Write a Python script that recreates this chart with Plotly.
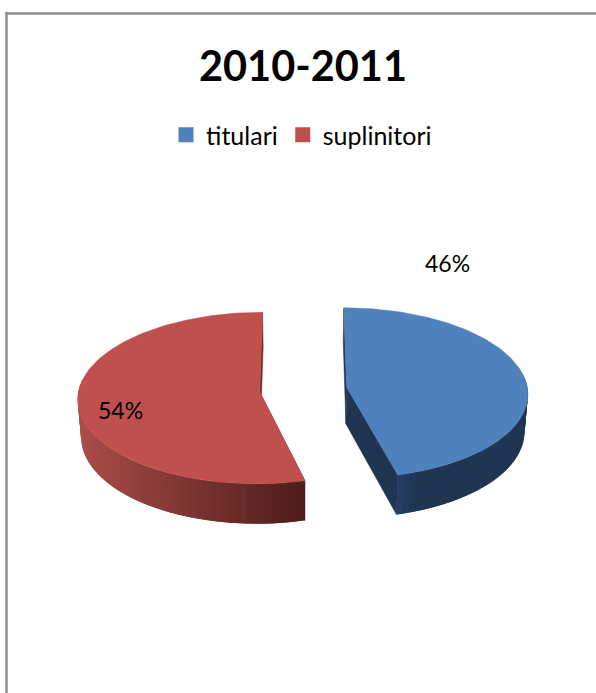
import numpy as np
import plotly.graph_objects as go

categories = ["titulari", "suplinitori"]
shares = [46, 54]
top_colors = ["#4F81BD", "#C0504D"]
title_text = "2010-2011"
label_positions = [(447, 263), (120, 410)]

W, H = 596, 693
VY = 389.5
VX_BY_SLICE = [304, 302.5]
RX, RY = 181, 85
EXPLODE = 43 / 181
PERSP = 0.07
DEPTH = 37
BOTTOM_SHRINK = 0.985


def hex_mix(c1, c2, t):
    a = [int(c1[i:i + 2], 16) for i in (1, 3, 5)]
    b = [int(c2[i:i + 2], 16) for i in (1, 3, 5)]
    return "rgb(%d,%d,%d)" % tuple(round(a[i] + (b[i] - a[i]) * t) for i in range(3))


fig = go.Figure()


def poly(xs, ys, color, edge=0.5):
    fig.add_trace(go.Scatter(
        x=list(xs) + [xs[0]], y=list(ys) + [ys[0]], mode="lines", fill="toself",
        fillcolor=color, line=dict(color=color, width=edge),
        hoverinfo="skip", showlegend=False))


total = sum(shares)
start = 0.0
slices = []
for share in shares:
    sweep = 2 * np.pi * share / total
    slices.append((start, start + sweep))
    start += sweep

cut_colors = ["#1F3552", "#6E2B28"]

for idx, ((a0, a1), top) in enumerate(zip(slices, top_colors)):
    mid = (a0 + a1) / 2
    ox, oy = EXPLODE * np.sin(mid), EXPLODE * np.cos(mid)
    vx = VX_BY_SLICE[idx]

    def project(wx, wy, down=False):
        s = 1 / (1 + PERSP * wy)
        px = vx + RX * wx * s
        py = VY - RY * wy * s
        if down:
            px = vx + (px - vx) * BOTTOM_SHRINK
            py = py + DEPTH * s
        return px, py

    def pt(theta, down=False):
        return project(ox + np.sin(theta), oy + np.cos(theta), down)

    tip_t = project(ox, oy)
    tip_b = project(ox, oy, True)

    # cut faces
    for edge in (a0, a1):
        e_t, e_b = pt(edge), pt(edge, True)
        poly([tip_t[0], e_t[0], e_b[0], tip_b[0]],
             [tip_t[1], e_t[1], e_b[1], tip_b[1]], cut_colors[idx])

    # outer wall: overlapping strips, each covering the next so no seams show
    lo, hi = max(a0, np.pi / 2 - 0.15), min(a1, 3 * np.pi / 2 + 0.15)
    thetas = np.linspace(lo, hi, 46)
    x_front, x_side = pt(lo)[0], pt(hi)[0]
    for i in range(len(thetas) - 1):
        t0 = thetas[i]
        t1 = thetas[min(i + 2, len(thetas) - 1)]
        p0, p1, q1, q0 = pt(t0), pt(t1), pt(t1, True), pt(t0, True)
        if idx == 0:
            f = (a1 - t0) / (a1 - lo)
            col = hex_mix("#27406A", "#1F3552", min(1, f * 12))
        else:
            f = (p0[0] - x_front) / (x_side - x_front)
            col = hex_mix("#4F1D1B", "#A84C48", f)
        poly([p0[0], p1[0], q1[0], q0[0]], [p0[1], p1[1], q1[1], q0[1]], col, edge=0)

    # top face
    arc = np.linspace(a0, a1, 160)
    xs, ys = [tip_t[0]], [tip_t[1]]
    for t in arc:
        p = pt(t)
        xs.append(p[0])
        ys.append(p[1])
    poly(xs, ys, top)

# legend entries
for cat, col in zip(categories, top_colors):
    fig.add_trace(go.Scatter(
        x=[-50], y=[-50], mode="markers", name=cat,
        marker=dict(symbol="square", size=15, color=col), hoverinfo="skip"))

# data labels
for share, (lx, ly) in zip(shares, label_positions):
    fig.add_annotation(x=lx, y=ly, text=f"{share}%", showarrow=False,
                       font=dict(family="Lato", size=23, color="#000000"),
                       xanchor="center", yanchor="middle")

fig.update_layout(
    width=W, height=H, margin=dict(l=0, r=0, t=0, b=0),
    paper_bgcolor="white", plot_bgcolor="white",
    xaxis=dict(range=[0, W], visible=False, fixedrange=True),
    yaxis=dict(range=[H, 0], visible=False, fixedrange=True),
    title=dict(text=f"<b>{title_text}</b>", x=303 / W, y=1 - 66.5 / H, xanchor="center",
               yanchor="middle", font=dict(family="Lato", size=41.5, color="#000000")),
    legend=dict(orientation="h", x=166 / W, y=1 - 135 / H, xanchor="left", yanchor="middle",
                font=dict(family="Lato", size=25, color="#000000"),
                bgcolor="rgba(0,0,0,0)", itemclick=False, itemdoubleclick=False,
                tracegroupgap=0),
    shapes=[
        dict(type="line", xref="paper", yref="paper", x0=6.5 / W, x1=6.5 / W, y0=0, y1=1 - 12 / H,
             line=dict(color="#8C8C8C", width=2.5)),
        dict(type="line", xref="paper", yref="paper", x0=5.2 / W, x1=1, y0=1 - 13.5 / H, y1=1 - 13.5 / H,
             line=dict(color="#8C8C8C", width=2.5)),
    ],
)

fig.write_html("out.html", config={"displayModeBar": False},
               post_script="document.body.style.margin='0';document.documentElement.style.overflow='hidden';")
